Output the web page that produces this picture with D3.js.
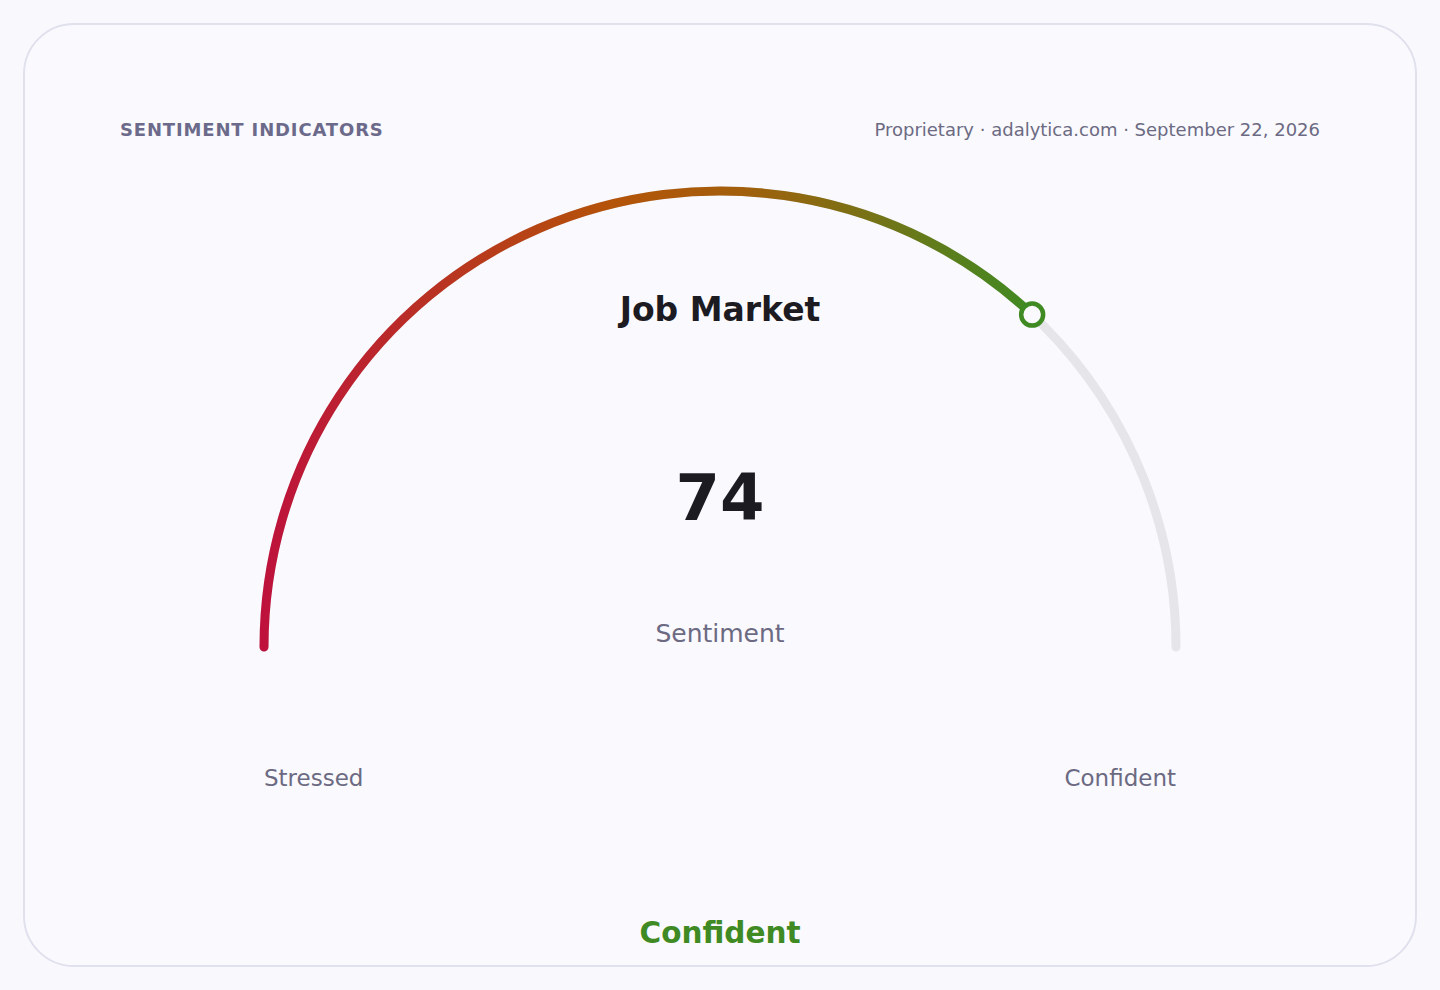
<!DOCTYPE html>
<html>
<head>
<meta charset="utf-8">
<script src="https://cdn.jsdelivr.net/npm/d3@7"></script>
<style>
  html, body { margin: 0; padding: 0; background: #f9f9fd; }
  svg { display: block; font-family: "DejaVu Sans", sans-serif; }
</style>
</head>
<body>
<svg id="chart" width="1440" height="990"></svg>
<script>
// data
var title = "Job Market";
var header = "SENTIMENT INDICATORS";
var source = "Proprietary · adalytica.com · September 22, 2026";
var value = 74;
var domain = [0, 100];
var endLabels = ["Stressed", "Confident"];
var metricLabel = "Sentiment";
var verdict = "Confident";
var gradientStops = [
  { offset: 0, color: "#be123c" },
  { offset: 0.45, color: "#b45309" },
  { offset: 0.62, color: "#a35f0c" },
  { offset: 1, color: "#3f8a22" }
];

var svg = d3.select("#chart");
var cx = 720, cy = 647, r = 456;

// card
svg.append("rect")
  .attr("x", 24).attr("y", 24)
  .attr("width", 1392).attr("height", 942)
  .attr("rx", 50).attr("ry", 50)
  .attr("fill", "#f9f9fe")
  .attr("stroke", "#e1e1ee")
  .attr("stroke-width", 2);

// header
svg.append("text")
  .text(header)
  .attr("x", 120).attr("y", 136)
  .style("font-size", "18px")
  .style("font-weight", "bold")
  .style("letter-spacing", "0.85px")
  .attr("fill", "#6c6a8a");

svg.append("text")
  .text(source)
  .attr("x", 1320).attr("y", 136)
  .attr("text-anchor", "end")
  .style("font-size", "18px")
  .attr("fill", "#6c6a82");

// angle scale: 0 at left, 100 at right, going over the top
var angle = d3.scaleLinear().domain(domain).range([-Math.PI, 0]);

function arcPath(v0, v1) {
  var p = d3.path();
  p.arc(cx, cy, r, angle(v0), angle(v1), false);
  return p.toString();
}

var vx = cx + r * Math.cos(angle(value));
var vy = cy + r * Math.sin(angle(value));

var defs = svg.append("defs");
var grad = defs.append("linearGradient")
  .attr("id", "valGrad")
  .attr("gradientUnits", "userSpaceOnUse")
  .attr("x1", cx - r).attr("y1", 0)
  .attr("x2", vx).attr("y2", 0);
grad.selectAll("stop")
  .data(gradientStops)
  .enter()
  .append("stop")
  .attr("offset", function(d) { return d.offset; })
  .attr("stop-color", function(d) { return d.color; });

// track
svg.append("path")
  .attr("d", arcPath(domain[0], domain[1]))
  .attr("fill", "none")
  .attr("stroke", "#e5e5ea")
  .attr("stroke-width", 9)
  .attr("stroke-linecap", "round");

// value arc
svg.append("path")
  .attr("d", arcPath(domain[0], value))
  .attr("fill", "none")
  .attr("stroke", "url(#valGrad)")
  .attr("stroke-width", 9)
  .attr("stroke-linecap", "round");

// marker
svg.append("circle")
  .attr("cx", vx).attr("cy", vy)
  .attr("r", 11)
  .attr("fill", "#f9f9fe")
  .attr("stroke", "#3f8a22")
  .attr("stroke-width", 4.5);

// centre texts
svg.append("text")
  .text(title)
  .attr("x", cx).attr("y", 321)
  .attr("text-anchor", "middle")
  .style("font-size", "33px")
  .style("font-weight", "bold")
  .attr("fill", "#1c1b22");

svg.append("text")
  .text(value)
  .attr("x", cx).attr("y", 520)
  .attr("text-anchor", "middle")
  .style("font-size", "64px")
  .style("font-weight", "bold")
  .attr("fill", "#1c1b22");

svg.append("text")
  .text(metricLabel)
  .attr("x", cx).attr("y", 642)
  .attr("text-anchor", "middle")
  .style("font-size", "25px")
  .attr("fill", "#6c6a82");

// end labels
svg.selectAll("text.endlabel")
  .data(endLabels)
  .enter()
  .append("text")
  .attr("class", "endlabel")
  .text(function(d) { return d; })
  .attr("x", function(d, i) { return i == 0 ? cx - r : cx + r; })
  .attr("y", 786)
  .attr("text-anchor", function(d, i) { return i == 0 ? "start" : "end"; })
  .style("font-size", "23px")
  .attr("fill", "#6c6a82");

// verdict
svg.append("text")
  .text(verdict)
  .attr("x", cx).attr("y", 943)
  .attr("text-anchor", "middle")
  .style("font-size", "29.5px")
  .style("font-weight", "bold")
  .attr("fill", "#3f8a22");
</script>
</body>
</html>
